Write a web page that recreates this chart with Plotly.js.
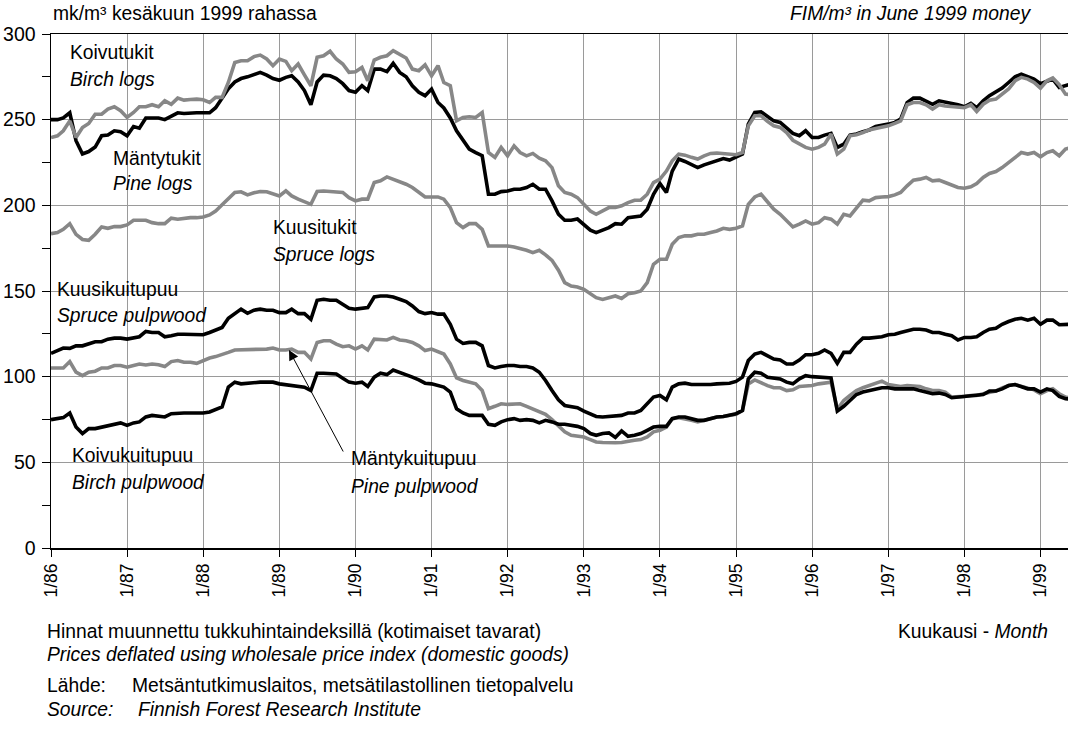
<!DOCTYPE html>
<html>
<head>
<meta charset="utf-8">
<script src="https://cdn.plot.ly/plotly-3.0.1.min.js"></script>
<style>html,body{margin:0;padding:0;background:#fff;}#chart{width:1068px;height:736px;}</style>
</head>
<body>
<div id="chart"></div>
<script>
// Monthly series, 1/1986 .. 6/1999 (FIM/m3, June 1999 money)
const startYear = 1986;
const startMonth = 1;

const birchLogs = [250,250,251,254,237.7,230,231.4,234,240.6,241,243.5,243,240.6,246,245,251,251,251,250,252,
254,253.6,254,254,254,254,257,263,268,272,274,275,276.6,277.6,276,274,273,274.7,275.6,272,
267,258.7,272,276,275.6,274,271,267,266,269.8,266.9,279.5,279.5,278,282.9,277.6,275,269.8,266,264,
267.9,260,256.8,251,243.5,237.7,232.8,230.8,229,206.5,206.5,208,208.4,209.4,209.4,210.4,212.3,209.4,209.4,202.6,
194.8,191.3,191.3,192,188.6,185.5,184.1,185.5,187,189.3,189,192.8,193.2,193.8,197.7,206.5,212.7,207.5,220,227,
225.6,223.6,222,223.6,225,226.4,227.3,226.4,228.3,229.9,247.4,254.2,254.6,251.7,249.3,248.4,245,242,240.6,243.5,
239.6,239.6,241,242,233.8,235.7,241,241.6,243,244,246,246.6,247.4,248.4,250.3,260,262.6,262.6,261,259,
261,260.4,259.5,258.7,257.5,259.5,257,261,264,266,268.4,271.7,275,276.6,275,273.7,271,272.7,273.7,268.8,
270,271];

const pineLogs = [239.6,240.6,243.5,249.3,239.6,245.4,247.8,253.2,253.2,256.2,257.5,255.2,251.3,254.2,257.5,257.5,258.7,257.5,261,259,
262.6,261.4,261.8,262,261.6,260,263,263,271.7,283.4,284.4,284.4,286.8,287.7,285.4,281.5,285.4,284,278.6,282.5,
276.2,269.8,286.4,287.3,289.9,285.4,282.5,277.6,278,280.5,272.7,284.8,286.4,287.3,290.3,288.3,286,279.5,278.6,282,
275.6,281.5,271.7,269.8,249.3,251.3,251.7,251.3,254.2,230.8,228,233.8,228.9,234.7,230.8,228.9,230.3,227.5,226,222,
211.4,207.5,206.5,204.5,200.3,196.7,194.8,196.7,198.7,198.7,199.7,201.6,203,203,206.5,213.3,215.3,220,226,229.9,
229.3,228,227,228.9,230.3,230.5,230.3,229.9,229.5,230.8,246.4,252.3,252.3,249,246.4,245.5,242.5,238,235.7,233.8,
232.8,233.8,235.7,241.6,229.9,232.8,240.6,241.2,242.5,244,244.9,245.5,246.4,247.8,249.3,258.7,260,260,258.7,256.2,
258.7,258,257.5,257,257,258.7,254.8,259,261.4,262,264.9,267.9,272.7,274.7,273.7,271.7,268.4,272.7,274.3,270.4,
264.9,264.5];

const spruceLogs = [183.5,184.1,186,189.3,183.1,180.1,179.6,183.1,187.4,186.6,187.6,187.6,188.6,191.3,191.3,191.3,189.9,189.3,189.3,192.5,
191.9,192.5,192.8,192.8,193.2,194.4,196.7,200.3,203.6,207.5,207.9,206.1,207.3,208.1,207.9,206.9,205.5,208.4,205.5,203.6,
202,200.6,208.1,208.4,208.1,207.9,207.5,204.5,202.6,203.6,203.6,213.3,214.3,216.6,215.3,213.7,212.3,210.4,207.5,204.9,
204.9,204.9,203.6,198.7,189.9,187,189.3,189.3,186,176.3,176.3,176.3,176.3,175.7,174.9,173.8,172.4,173.8,171.1,167.9,
162.1,154.9,152.9,152.3,151,148.4,146.1,145.1,146.1,147.1,145.7,148.4,149,150,154.9,165.6,168.5,168.5,177.3,181.2,
182.2,182.2,183.1,183.1,184.1,185,186.6,186,186.6,188,200.6,204.9,206.5,201.6,197.7,194.8,190.9,187.4,189,190.9,
189,189.9,192.8,191.9,189,194.8,193.8,198.7,203,202.6,204.5,204.9,205.1,206.1,207.5,211.4,214.7,215.3,216.3,214.3,
214.7,213.3,212,210.4,210,210.8,212.7,216.3,218.6,219.7,222,225,227.9,230.8,229.9,230.8,228.3,230.8,231.8,228.9,
232.8,234];

const sprucePulp = [113.6,115.2,116.7,116.5,118,118,119,120.4,120.4,121.9,122.5,122.5,121.9,122.9,123.3,126.4,125.8,125.8,123.3,123.9,
124.8,124.8,124.8,124.5,124.5,125.8,127.2,128.7,134.1,136.8,139.4,137,138.8,139.4,138.8,138.8,137.4,137.4,139.4,136.8,
136.8,133.5,144.6,145.2,144.6,144.6,142.3,139.9,139.4,139.9,140.3,146.5,147.1,147.1,146.5,145.2,143.8,141.3,138,136.8,
137.4,136.5,136.5,130.6,121.9,119.4,120,120,118,106.5,105.1,105.9,106.5,106.5,105.9,105.9,105.1,102.6,97.8,91.9,
86.5,83.2,82.3,81.9,79.9,78.4,76.8,76.5,76.8,76.8,77.4,78.8,78.8,80.3,84.2,88.1,89,86.5,93.9,95.8,
96.2,95.4,95.4,95.2,95.4,95.8,95.8,96.2,97.2,99.7,109.4,113.2,114.2,112.3,110.3,109.7,107.4,107.4,109.7,112.8,
112.8,113.6,115.6,113.6,107.8,114.2,114.2,119,122.5,122.5,122.9,123.3,124.5,124.8,125.8,126.8,127.7,127.7,127.2,125.8,
125.8,124.8,123.9,121.4,122.9,122.9,123.3,125.8,127.7,128.3,130.6,132.2,133.5,134.1,133,134.1,130.6,133,133,130.3,
130.6,130.6];

const pinePulp = [105.1,105.1,105.1,108.8,102.6,100.6,102.6,103.2,105.1,105.1,106.5,106.5,105.5,106.5,107.4,106.8,107.4,107,105.9,108.8,
109.4,108.4,108.4,107.8,109.4,110.9,111.7,112.8,114.2,115.6,115.6,115.6,115.6,115.9,116.1,116.7,115.6,115.6,116.1,114.2,
114.2,110.3,120,121,121,119,117.5,118,116.1,118,115.6,121.9,121.9,121.4,122.9,121.4,121,120,118,115.2,
116.1,114.8,113.2,107.4,99.3,97.8,96.8,95.8,91.9,81.3,82.7,84.2,83.8,83.8,84.2,82.7,81.3,79.4,78,74.9,
71,67.8,65.8,65.2,64.8,63.3,61.9,61.6,61.4,61.4,61.6,62.5,62.9,63.3,64.8,67.8,68.7,70.6,75.5,76.1,
75.5,74.5,73.6,74.5,75.5,76.5,76.8,77.4,78,80.3,95.8,98.1,96.2,94.8,93.5,93.5,91.9,92.3,94.3,94.3,
94.8,95.8,96.2,96.8,81,86.1,89,91.9,93.5,94.8,96.2,97.4,95.4,94.8,94.3,94.8,94.8,94.3,92.9,91.9,
91.9,91,88.1,88.1,88.5,89,89,90,91,91.6,93.5,94.8,95.4,94.3,93.5,92.3,90,91.9,92.9,90,
88.1,87.5];

const birchPulp = [74.9,75.5,76.1,78.8,70.6,66.8,69.7,69.7,70.6,71.6,72.6,73,71.6,73,73.6,76.5,77.4,76.8,76.5,78.4,
78.8,78.8,78.8,78.8,78.8,79.4,80.7,82.3,93.9,96.8,95.8,96.2,96.8,96.8,96.8,96.8,95.8,95.4,94.8,94.3,
93.9,91.9,102,102,102,101.6,99.1,96.8,96.2,96.8,94.3,99.7,102,101.2,103.9,102.6,101.2,99.7,98.1,96.2,
95.8,94.8,93.9,91,81.3,78.8,77.4,77.4,77.4,72.2,71.6,73.6,74.9,75.5,74.5,74.9,74.5,73,74.5,73.6,
72.2,72.2,71.6,71,69.7,66.8,65.8,66.8,67.2,64.5,68.3,65.2,65.8,66.8,68.7,70.6,71,71,75.5,76.5,
76.5,75.5,74.5,74.5,75.5,76.5,76.8,77.4,78.4,80.3,98.7,102.6,102,99.7,99.3,98.7,96.8,95.8,98.7,100.6,
100,99.7,99.3,99.3,79.9,82.7,86.1,89.6,91,91.9,92.9,93.5,93.5,92.9,92.9,92.9,92.9,91.9,91,90,
90.4,89.6,87.7,88.1,88.1,88.5,89,89.6,91.6,91.6,92.9,94.8,95.4,94.3,92.9,92.9,91,92.9,91.9,88.5,
87.1,87];

const tickYears = [86,87,88,89,90,91,92,93,94,95,96,97,98,99];
const tickLabels = tickYears.map(y => '1/' + y);
const tickDates = tickYears.map(y => (1900 + y) + '-01-01');

// month dates
function monthDates(n) {
  const out = [];
  for (let i = 0; i < n; i++) {
    const total = (startMonth - 1) + i;
    const y = startYear + Math.floor(total / 12);
    const m = (total % 12) + 1;
    out.push(y + '-' + String(m).padStart(2, '0') + '-01');
  }
  return out;
}

const BLACK = '#000000';
const GRAY = '#878787';
const FONT = 'Liberation Sans Narrow, Arial Narrow, Liberation Sans, Arial, sans-serif';
const TS = 19.3;

function tr(vals, color, name) {
  return {
    x: monthDates(vals.length), y: vals, type: 'scatter', mode: 'lines', name: name,
    line: {color: color, width: 3.6, shape: 'linear'}, hoverinfo: 'x+y'
  };
}

const data = [
  tr(birchLogs, BLACK, 'Birch logs'),
  tr(pineLogs, GRAY, 'Pine logs'),
  tr(spruceLogs, GRAY, 'Spruce logs'),
  tr(sprucePulp, BLACK, 'Spruce pulpwood'),
  tr(pinePulp, GRAY, 'Pine pulpwood'),
  tr(birchPulp, BLACK, 'Birch pulpwood')
];

// layout geometry (pixels)
const W = 1068, H = 736;
const L = 51, R = 0, T = 34, B = 188;
const PW = W - L - R, PH = H - T - B;
const px = x => (x - L) / PW;
const py = y => (H - B - y) / PH;

function txt(text, x, y, anchor, size, extra) {
  return Object.assign({
    text: text, xref: 'paper', yref: 'paper', x: px(x), y: py(y),
    xanchor: anchor || 'left', yanchor: 'middle', showarrow: false,
    font: {family: FONT, size: size || TS, color: '#000'}
  }, extra || {});
}

function mask(x0, y0, x1, y1) {
  return {type: 'rect', xref: 'paper', yref: 'paper', x0: px(x0), x1: px(x1), y0: py(y1), y1: py(y0),
    fillcolor: '#ffffff', line: {width: 0}, layer: 'between'};
}

const annotations = [
  txt('mk/m³ kesäkuun 1999 rahassa', 51, 14, 'left'),
  txt('<i>FIM/m³ in June 1999 money</i>', 1033, 14, 'right'),
  txt('Koivutukit', 68, 53), txt('<i>Birch logs</i>', 68, 79),
  txt('Mäntytukit', 111, 158), txt('<i>Pine logs</i>', 111, 184),
  txt('Kuusitukit', 271, 227), txt('<i>Spruce logs</i>', 271, 254),
  txt('Kuusikuitupuu', 55, 289), txt('<i>Spruce pulpwood</i>', 55, 315),
  txt('Koivukuitupuu', 70, 455), txt('<i>Birch pulpwood</i>', 70, 482),
  txt('Mäntykuitupuu', 349, 458), txt('<i>Pine pulpwood</i>', 349, 486),
  {text: '', xref: 'paper', yref: 'paper', x: px(289), y: py(350), showarrow: true,
   ax: 55, ay: 103, axref: 'pixel', ayref: 'pixel', arrowhead: 2, arrowsize: 2, arrowwidth: 1,
   arrowcolor: '#000', standoff: 0, startstandoff: 0},
  txt('Hinnat muunnettu tukkuhintaindeksillä (kotimaiset tavarat)', 45, 631),
  txt('<i>Prices deflated using wholesale price index (domestic goods)</i>', 45, 654),
  txt('Lähde:', 45, 685), txt('Metsäntutkimuslaitos, metsätilastollinen tietopalvelu', 130, 685),
  txt('<i>Source:</i>', 45, 709), txt('<i>Finnish Forest Research Institute</i>', 136, 709),
  txt('Kuukausi - <i>Month</i>', 1050, 631, 'right')
];

const shapes = [
  mask(62, 36, 160, 94),
  mask(105, 138, 200, 197),
  mask(265, 207, 382, 285),
  mask(52, 262, 203, 326),
  mask(52, 435, 245, 498),
  mask(340, 437, 527, 507)
];

const layout = {
  width: W, height: H,
  margin: {l: L, r: R, t: T, b: B, pad: 0},
  paper_bgcolor: '#fff', plot_bgcolor: '#fff',
  showlegend: false,
  font: {family: FONT, size: TS, color: '#000'},
  xaxis: {
    type: 'date', range: ['1986-01-01', '1999-05-13'],
    tickmode: 'array', tickvals: tickDates, ticktext: tickLabels, tickangle: -90,
    ticks: 'outside', ticklen: 7, tickwidth: 1, tickcolor: '#000',
    tickfont: {family: FONT, size: 17.5, color: '#000'},
    showgrid: true, gridcolor: '#9a9a9a', gridwidth: 1,
    showline: true, linecolor: '#000', linewidth: 1.5, mirror: true,
    zeroline: false, fixedrange: true
  },
  yaxis: {
    range: [0, 300], tickmode: 'linear', tick0: 0, dtick: 50,
    ticks: 'outside', ticklen: 8, tickwidth: 1, tickcolor: '#000',
    minor: {dtick: 25, tick0: 0, ticks: 'outside', ticklen: 8, tickcolor: '#000', showgrid: false},
    tickfont: {family: FONT, size: 19.5, color: '#000'},
    showgrid: true, gridcolor: '#9a9a9a', gridwidth: 1,
    showline: true, linecolor: '#000', linewidth: 1.5,
    zeroline: false, fixedrange: true, ticklabelstandoff: 2
  },
  annotations: annotations,
  shapes: shapes
};

Plotly.newPlot('chart', data, layout, {staticPlot: true, displayModeBar: false});
</script>
</body>
</html>
